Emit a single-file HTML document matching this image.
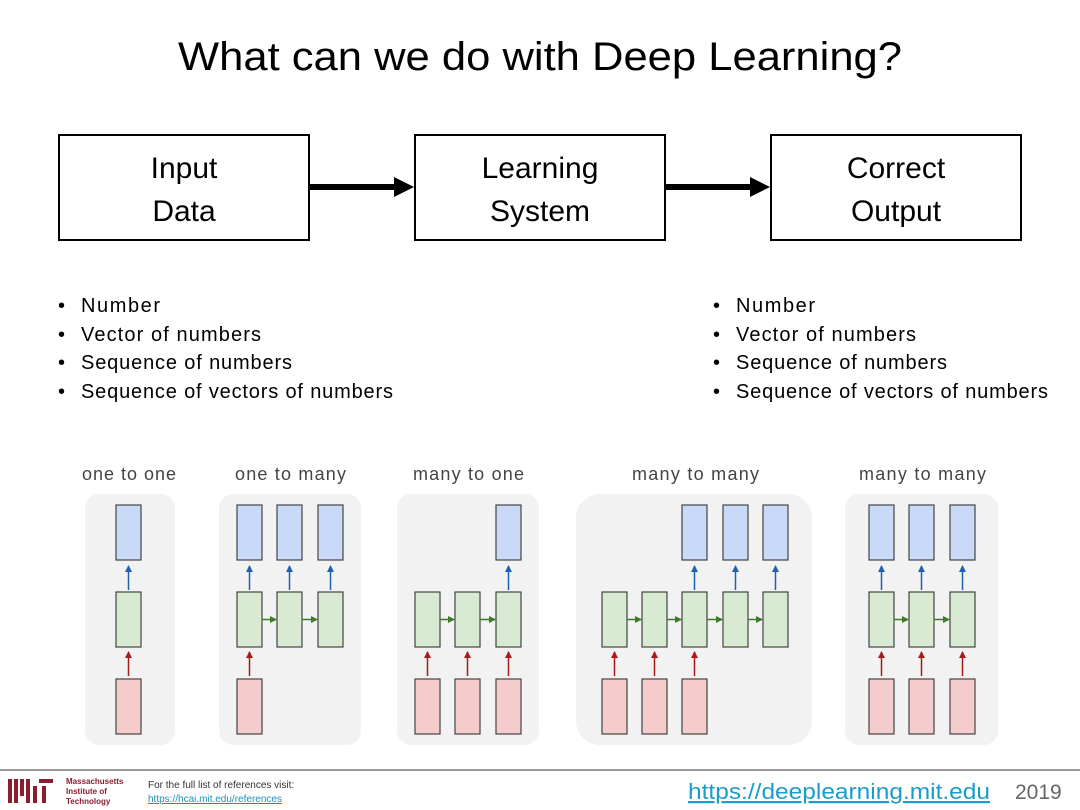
<!DOCTYPE html>
<html><head><meta charset="utf-8"><style>
body{margin:0;background:#fff}
svg{display:block}
text{font-family:"Liberation Sans",sans-serif}
</style></head><body>
<svg width="1080" height="810" viewBox="0 0 1080 810" xmlns="http://www.w3.org/2000/svg">
<defs>
<marker id="r" markerWidth="7" markerHeight="7" refX="6" refY="3.5" orient="auto" markerUnits="userSpaceOnUse"><path d="M0,0L7,3.5L0,7z" fill="#a31b1b"/></marker>
<marker id="b" markerWidth="7" markerHeight="7" refX="6" refY="3.5" orient="auto" markerUnits="userSpaceOnUse"><path d="M0,0L7,3.5L0,7z" fill="#2060b0"/></marker>
<marker id="g" markerWidth="7" markerHeight="7" refX="6" refY="3.5" orient="auto" markerUnits="userSpaceOnUse"><path d="M0,0L7,3.5L0,7z" fill="#3d7a2a"/></marker>
</defs>
<text x="178" y="70" font-size="40" fill="#000" textLength="724" lengthAdjust="spacingAndGlyphs">What can we do with Deep Learning?</text>
<g fill="#fff" stroke="#000" stroke-width="2">
<rect x="59" y="135" width="250" height="105"/>
<rect x="415" y="135" width="250" height="105"/>
<rect x="771" y="135" width="250" height="105"/>
</g>
<g font-size="30" text-anchor="middle" fill="#000">
<text x="184" y="178">Input</text><text x="184" y="221">Data</text>
<text x="540" y="178">Learning</text><text x="540" y="221">System</text>
<text x="896" y="178">Correct</text><text x="896" y="221">Output</text>
</g>
<rect x="310" y="184" width="86" height="6" fill="#000"/><path d="M394,177L414,187L394,197z" fill="#000"/>
<rect x="666" y="184" width="86" height="6" fill="#000"/><path d="M750,177L770,187L750,197z" fill="#000"/>
<g font-size="20" fill="#000" lengthAdjust="spacingAndGlyphs">
<text x="58" y="312">•</text><text x="81" y="312" textLength="79">Number</text>
<text x="58" y="341">•</text><text x="81" y="341" textLength="180">Vector of numbers</text>
<text x="58" y="369">•</text><text x="81" y="369" textLength="211">Sequence of numbers</text>
<text x="58" y="398">•</text><text x="81" y="398" textLength="312">Sequence of vectors of numbers</text>
<text x="713" y="312">•</text><text x="736" y="312" textLength="79">Number</text>
<text x="713" y="341">•</text><text x="736" y="341" textLength="180">Vector of numbers</text>
<text x="713" y="369">•</text><text x="736" y="369" textLength="211">Sequence of numbers</text>
<text x="713" y="398">•</text><text x="736" y="398" textLength="312">Sequence of vectors of numbers</text>
</g>
<g font-size="18" fill="#444" lengthAdjust="spacingAndGlyphs">
<text x="82" y="480" textLength="94">one to one</text>
<text x="235" y="480" textLength="111">one to many</text>
<text x="413" y="480" textLength="111">many to one</text>
<text x="632" y="480" textLength="127">many to many</text>
<text x="859" y="480" textLength="127">many to many</text>
</g>
<g fill="#f2f2f2">
<rect x="85" y="494" width="90" height="251" rx="14"/>
<rect x="219" y="494" width="142" height="251" rx="14"/>
<rect x="397" y="494" width="142" height="251" rx="14"/>
<rect x="576" y="494" width="236" height="251" rx="24"/>
<rect x="845" y="494" width="153" height="251" rx="14"/>
</g>
<g stroke="#444" stroke-width="1.2">
<rect x="116" y="505" width="25" height="55" fill="#c9daf8"/>
<rect x="116" y="592" width="25" height="55" fill="#d9ead3"/>
<rect x="116" y="679" width="25" height="55" fill="#f4cccc"/>
<rect x="237" y="505" width="25" height="55" fill="#c9daf8"/><rect x="277" y="505" width="25" height="55" fill="#c9daf8"/><rect x="318" y="505" width="25" height="55" fill="#c9daf8"/>
<rect x="237" y="592" width="25" height="55" fill="#d9ead3"/><rect x="277" y="592" width="25" height="55" fill="#d9ead3"/><rect x="318" y="592" width="25" height="55" fill="#d9ead3"/>
<rect x="237" y="679" width="25" height="55" fill="#f4cccc"/>
<rect x="496" y="505" width="25" height="55" fill="#c9daf8"/>
<rect x="415" y="592" width="25" height="55" fill="#d9ead3"/><rect x="455" y="592" width="25" height="55" fill="#d9ead3"/><rect x="496" y="592" width="25" height="55" fill="#d9ead3"/>
<rect x="415" y="679" width="25" height="55" fill="#f4cccc"/><rect x="455" y="679" width="25" height="55" fill="#f4cccc"/><rect x="496" y="679" width="25" height="55" fill="#f4cccc"/>
<rect x="682" y="505" width="25" height="55" fill="#c9daf8"/><rect x="723" y="505" width="25" height="55" fill="#c9daf8"/><rect x="763" y="505" width="25" height="55" fill="#c9daf8"/>
<rect x="602" y="592" width="25" height="55" fill="#d9ead3"/><rect x="642" y="592" width="25" height="55" fill="#d9ead3"/><rect x="682" y="592" width="25" height="55" fill="#d9ead3"/><rect x="723" y="592" width="25" height="55" fill="#d9ead3"/><rect x="763" y="592" width="25" height="55" fill="#d9ead3"/>
<rect x="602" y="679" width="25" height="55" fill="#f4cccc"/><rect x="642" y="679" width="25" height="55" fill="#f4cccc"/><rect x="682" y="679" width="25" height="55" fill="#f4cccc"/>
<rect x="869" y="505" width="25" height="55" fill="#c9daf8"/><rect x="909" y="505" width="25" height="55" fill="#c9daf8"/><rect x="950" y="505" width="25" height="55" fill="#c9daf8"/>
<rect x="869" y="592" width="25" height="55" fill="#d9ead3"/><rect x="909" y="592" width="25" height="55" fill="#d9ead3"/><rect x="950" y="592" width="25" height="55" fill="#d9ead3"/>
<rect x="869" y="679" width="25" height="55" fill="#f4cccc"/><rect x="909" y="679" width="25" height="55" fill="#f4cccc"/><rect x="950" y="679" width="25" height="55" fill="#f4cccc"/>
</g>
<g stroke-width="1.5">
<g stroke="#a31b1b" marker-end="url(#r)">
<line x1="128.5" y1="676" x2="128.5" y2="652"/>
<line x1="249.5" y1="676" x2="249.5" y2="652"/>
<line x1="427.5" y1="676" x2="427.5" y2="652"/><line x1="467.5" y1="676" x2="467.5" y2="652"/><line x1="508.5" y1="676" x2="508.5" y2="652"/>
<line x1="614.5" y1="676" x2="614.5" y2="652"/><line x1="654.5" y1="676" x2="654.5" y2="652"/><line x1="694.5" y1="676" x2="694.5" y2="652"/>
<line x1="881.5" y1="676" x2="881.5" y2="652"/><line x1="921.5" y1="676" x2="921.5" y2="652"/><line x1="962.5" y1="676" x2="962.5" y2="652"/>
</g>
<g stroke="#2060b0" marker-end="url(#b)">
<line x1="128.5" y1="590" x2="128.5" y2="566"/>
<line x1="249.5" y1="590" x2="249.5" y2="566"/><line x1="289.5" y1="590" x2="289.5" y2="566"/><line x1="330.5" y1="590" x2="330.5" y2="566"/>
<line x1="508.5" y1="590" x2="508.5" y2="566"/>
<line x1="694.5" y1="590" x2="694.5" y2="566"/><line x1="735.5" y1="590" x2="735.5" y2="566"/><line x1="775.5" y1="590" x2="775.5" y2="566"/>
<line x1="881.5" y1="590" x2="881.5" y2="566"/><line x1="921.5" y1="590" x2="921.5" y2="566"/><line x1="962.5" y1="590" x2="962.5" y2="566"/>
</g>
<g stroke="#3d7a2a" marker-end="url(#g)">
<line x1="262" y1="619.5" x2="276" y2="619.5"/><line x1="302" y1="619.5" x2="317" y2="619.5"/>
<line x1="440" y1="619.5" x2="454" y2="619.5"/><line x1="480" y1="619.5" x2="495" y2="619.5"/>
<line x1="627" y1="619.5" x2="641" y2="619.5"/><line x1="667" y1="619.5" x2="681" y2="619.5"/><line x1="707" y1="619.5" x2="722" y2="619.5"/><line x1="748" y1="619.5" x2="762" y2="619.5"/>
<line x1="894" y1="619.5" x2="908" y2="619.5"/><line x1="934" y1="619.5" x2="949" y2="619.5"/>
</g>
</g>
<line x1="0" y1="770" x2="1080" y2="770" stroke="#999" stroke-width="2"/>
<g fill="#8a1e2e">
<rect x="8" y="779" width="4" height="24"/><rect x="14" y="779" width="4" height="24"/><rect x="20" y="779" width="4" height="17"/><rect x="26" y="779" width="4" height="24"/><rect x="33" y="786" width="4" height="17"/><rect x="39" y="779" width="14" height="4"/><rect x="42" y="786" width="4" height="17"/>
</g>
<g font-size="8" fill="#8a1e2e" font-weight="bold"><text x="66" y="784">Massachusetts</text><text x="66" y="794">Institute of</text><text x="66" y="804">Technology</text></g>
<text x="148" y="788" font-size="10" fill="#333">For the full list of references visit:</text>
<text x="148" y="802" font-size="10" fill="#1a8fbf" text-decoration="underline">https://hcai.mit.edu/references</text>
<text x="688" y="799" font-size="22" fill="#1a9ccc" text-decoration="underline" textLength="302" lengthAdjust="spacingAndGlyphs">https://deeplearning.mit.edu</text>
<text x="1015" y="799" font-size="21" fill="#666">2019</text>
</svg>
</body></html>
